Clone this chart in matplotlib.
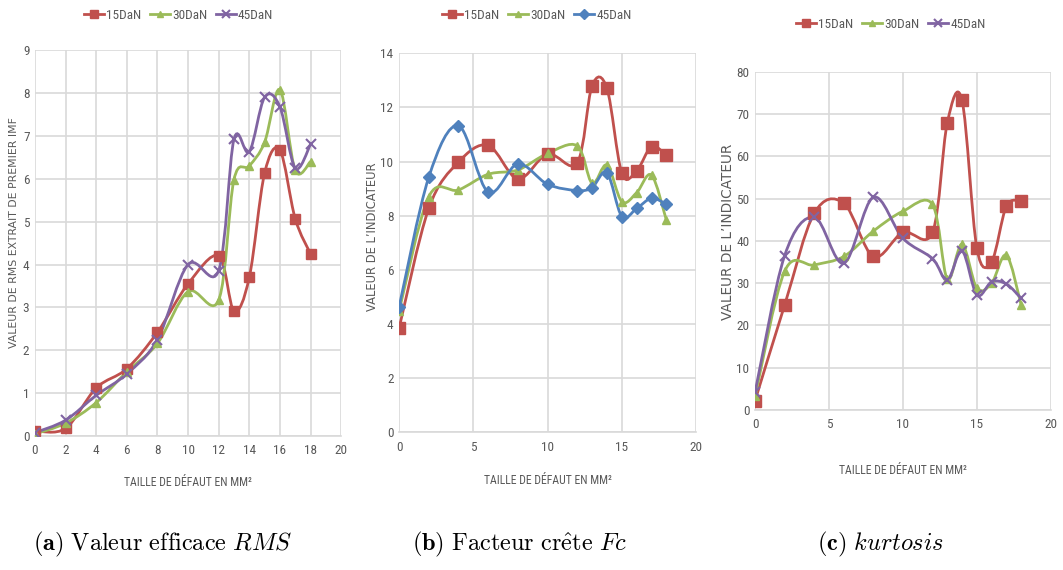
import numpy as np
import matplotlib
matplotlib.use("Agg")
import matplotlib.pyplot as plt
from matplotlib.path import Path
from matplotlib.patches import PathPatch
from matplotlib.lines import Line2D

plt.rcParams["mathtext.fontset"] = "cm"

# taille de defaut (mm2)
taille = [0, 2, 4, 6, 8, 10, 12, 13, 14, 15, 16, 17, 18]

# (a) valeur efficace RMS
rms_15 = [0.12, 0.18, 1.12, 1.57, 2.42, 3.55, 4.2, 2.92, 3.7, 6.13, 6.67, 5.07, 4.25]
rms_30 = [0.05, 0.3, 0.78, 1.5, 2.16, 3.37, 3.17, 5.98, 6.3, 6.85, 8.08, 6.2, 6.4]
rms_45 = [0.08, 0.37, 0.95, 1.45, 2.25, 4.0, 3.86, 6.92, 6.63, 7.9, 7.68, 6.25, 6.8]

# (b) facteur crete
fc_15 = [3.84, 8.27, 9.98, 10.6, 9.36, 10.28, 9.95, 12.8, 12.7, 9.57, 9.66, 10.55, 10.24]
fc_30 = [4.47, 8.7, 8.95, 9.53, 9.69, 10.3, 10.58, 9.2, 9.87, 8.52, 8.85, 9.5, 7.84]
fc_45 = [4.62, 9.42, 11.32, 8.87, 9.91, 9.16, 8.93, 9.04, 9.59, 7.97, 8.27, 8.64, 8.43]

# (c) kurtosis
ku_15 = [2.2, 24.8, 46.5, 48.9, 36.3, 42.0, 42.0, 67.9, 73.2, 38.3, 35.1, 48.2, 49.4]
ku_30 = [3.2, 32.8, 34.3, 36.3, 42.3, 47.0, 48.6, 31.0, 39.2, 28.8, 30.0, 36.6, 24.8]
ku_45 = [4.2, 36.5, 45.6, 34.7, 50.3, 40.6, 35.8, 30.7, 37.6, 27.2, 30.3, 29.8, 26.4]

labels = ["15DaN", "30DaN", "45DaN"]

RED = "#C0504D"
GREEN = "#9BBB59"
PURPLE = "#8064A2"
BLUE = "#4F81BD"
TXT = "#595959"
GRID = "#D9D9D9"
narrow = ["Roboto Condensed", "DejaVu Sans"]
XLAB = "TAILLE DE DÉFAUT EN MM²"


def smooth_path(x, y):
    # bezier a la maniere des courbes lissees d'Excel
    pts = np.column_stack([x, y]).astype(float)
    n = len(pts)
    verts = [pts[0]]
    codes = [Path.MOVETO]
    for i in range(n - 1):
        p0 = pts[i - 1] if i > 0 else pts[i]
        p1 = pts[i]
        p2 = pts[i + 1]
        p3 = pts[i + 2] if i + 2 < n else pts[i + 1]
        verts += [p1 + (p2 - p0) / 6, p2 - (p3 - p1) / 6, p2]
        codes += [Path.CURVE4] * 3
    return Path(verts, codes)


def draw_panel(ax, series, styles, xmax, xstep, ymax, ystep):
    for y, (col, mk, ms, mew) in zip(series, styles):
        ax.add_patch(PathPatch(smooth_path(taille, y), fill=False, edgecolor=col,
                               lw=2.0, zorder=3, capstyle="round"))
        ax.plot(taille, y, ls="none", marker=mk, ms=ms, color=col, mec=col,
                mew=mew, zorder=4)
    ax.set_xlim(0, xmax)
    ax.set_ylim(0, ymax)
    ax.set_xticks(np.arange(0, xmax + 0.1, xstep))
    ax.set_yticks(np.arange(0, ymax + 0.1, ystep))
    ax.grid(True, color=GRID, lw=1.2)
    ax.set_axisbelow(True)
    for s in ["top", "right", "left"]:
        ax.spines[s].set_visible(False)
    ax.spines["bottom"].set_color(GRID)
    ax.spines["bottom"].set_linewidth(1.2)
    ax.tick_params(length=0, labelsize=9.5, labelcolor=TXT)
    ax.tick_params(axis="x", pad=6)
    ax.tick_params(axis="y", pad=4)
    for t in ax.get_xticklabels() + ax.get_yticklabels():
        t.set_family(narrow)
        t.set_stretch("condensed")
    handles = [Line2D([], [], color=c, lw=2.0, marker=m, ms=s * 0.8, mew=w)
               for (c, m, s, w) in styles]
    return handles


fig = plt.figure(figsize=(10.63, 5.70), dpi=100)

ax_a = fig.add_axes([0.0329, 0.235, 0.288, 0.677])
ax_b = fig.add_axes([0.3754, 0.2416, 0.2794, 0.665])
ax_c = fig.add_axes([0.7103, 0.2807, 0.2782, 0.5935])

st_a = [(RED, "s", 7, 1), (GREEN, "^", 6, 1), (PURPLE, "x", 7, 1.5)]
st_b = [(RED, "s", 8, 1), (GREEN, "^", 6, 1), (BLUE, "D", 6, 1)]
st_c = [(RED, "s", 8, 1), (GREEN, "^", 6, 1), (PURPLE, "x", 7, 1.5)]

h_a = draw_panel(ax_a, [rms_15, rms_30, rms_45], st_a, 20, 2, 9, 1)
h_b = draw_panel(ax_b, [fc_15, fc_30, fc_45], st_b, 20, 5, 14, 2)
h_c = draw_panel(ax_c, [ku_15, ku_30, ku_45], st_c, 20, 5, 80, 10)

# titres des axes
for xc, yc, txt, fs in [(14, 233, "VALEUR DE RMS EXTRAIT DE PREMIER IMF", 7.8),
                        (373, 237, "VALEUR DE L\u2019INDICATEUR", 8.3),
                        (728, 232, "VALEUR DE L\u2019INDICATEUR", 9.8)]:
    fig.text(xc / 1063, 1 - yc / 570, txt, rotation=90, ha="center", va="center",
             fontsize=fs, color=TXT)
for xc, yc in [(188, 482), (548, 480), (903, 470)]:
    fig.text(xc / 1063, 1 - yc / 570, XLAB, ha="center", va="center",
             family=narrow, stretch="condensed", fontsize=8.5, color=TXT)

for h, xc, yc in [(h_a, 0.168, 0.973), (h_b, 0.505, 0.973), (h_c, 0.838, 0.957)]:
    leg = fig.legend(h, labels, loc="center", bbox_to_anchor=(xc, yc), ncol=3,
                     frameon=False, handlelength=1.5, handletextpad=0.15,
                     columnspacing=0.7,
                     prop={"family": narrow, "size": 9.5, "stretch": "condensed"})
    for t in leg.get_texts():
        t.set_color(TXT)

fig.text(0.031, 0.035, r"$\mathbf{(a)}\ \mathrm{Valeur\ efficace}\ RMS$", fontsize=17.5)
fig.text(0.388, 0.035, r"$\mathbf{(b)}\ \mathrm{Facteur\ cr\hat{e}te}\ Fc$", fontsize=17.5)
fig.text(0.769, 0.035, r"$\mathbf{(c)}\ kurtosis$", fontsize=17.5)

fig.savefig("out.png", dpi=100)
